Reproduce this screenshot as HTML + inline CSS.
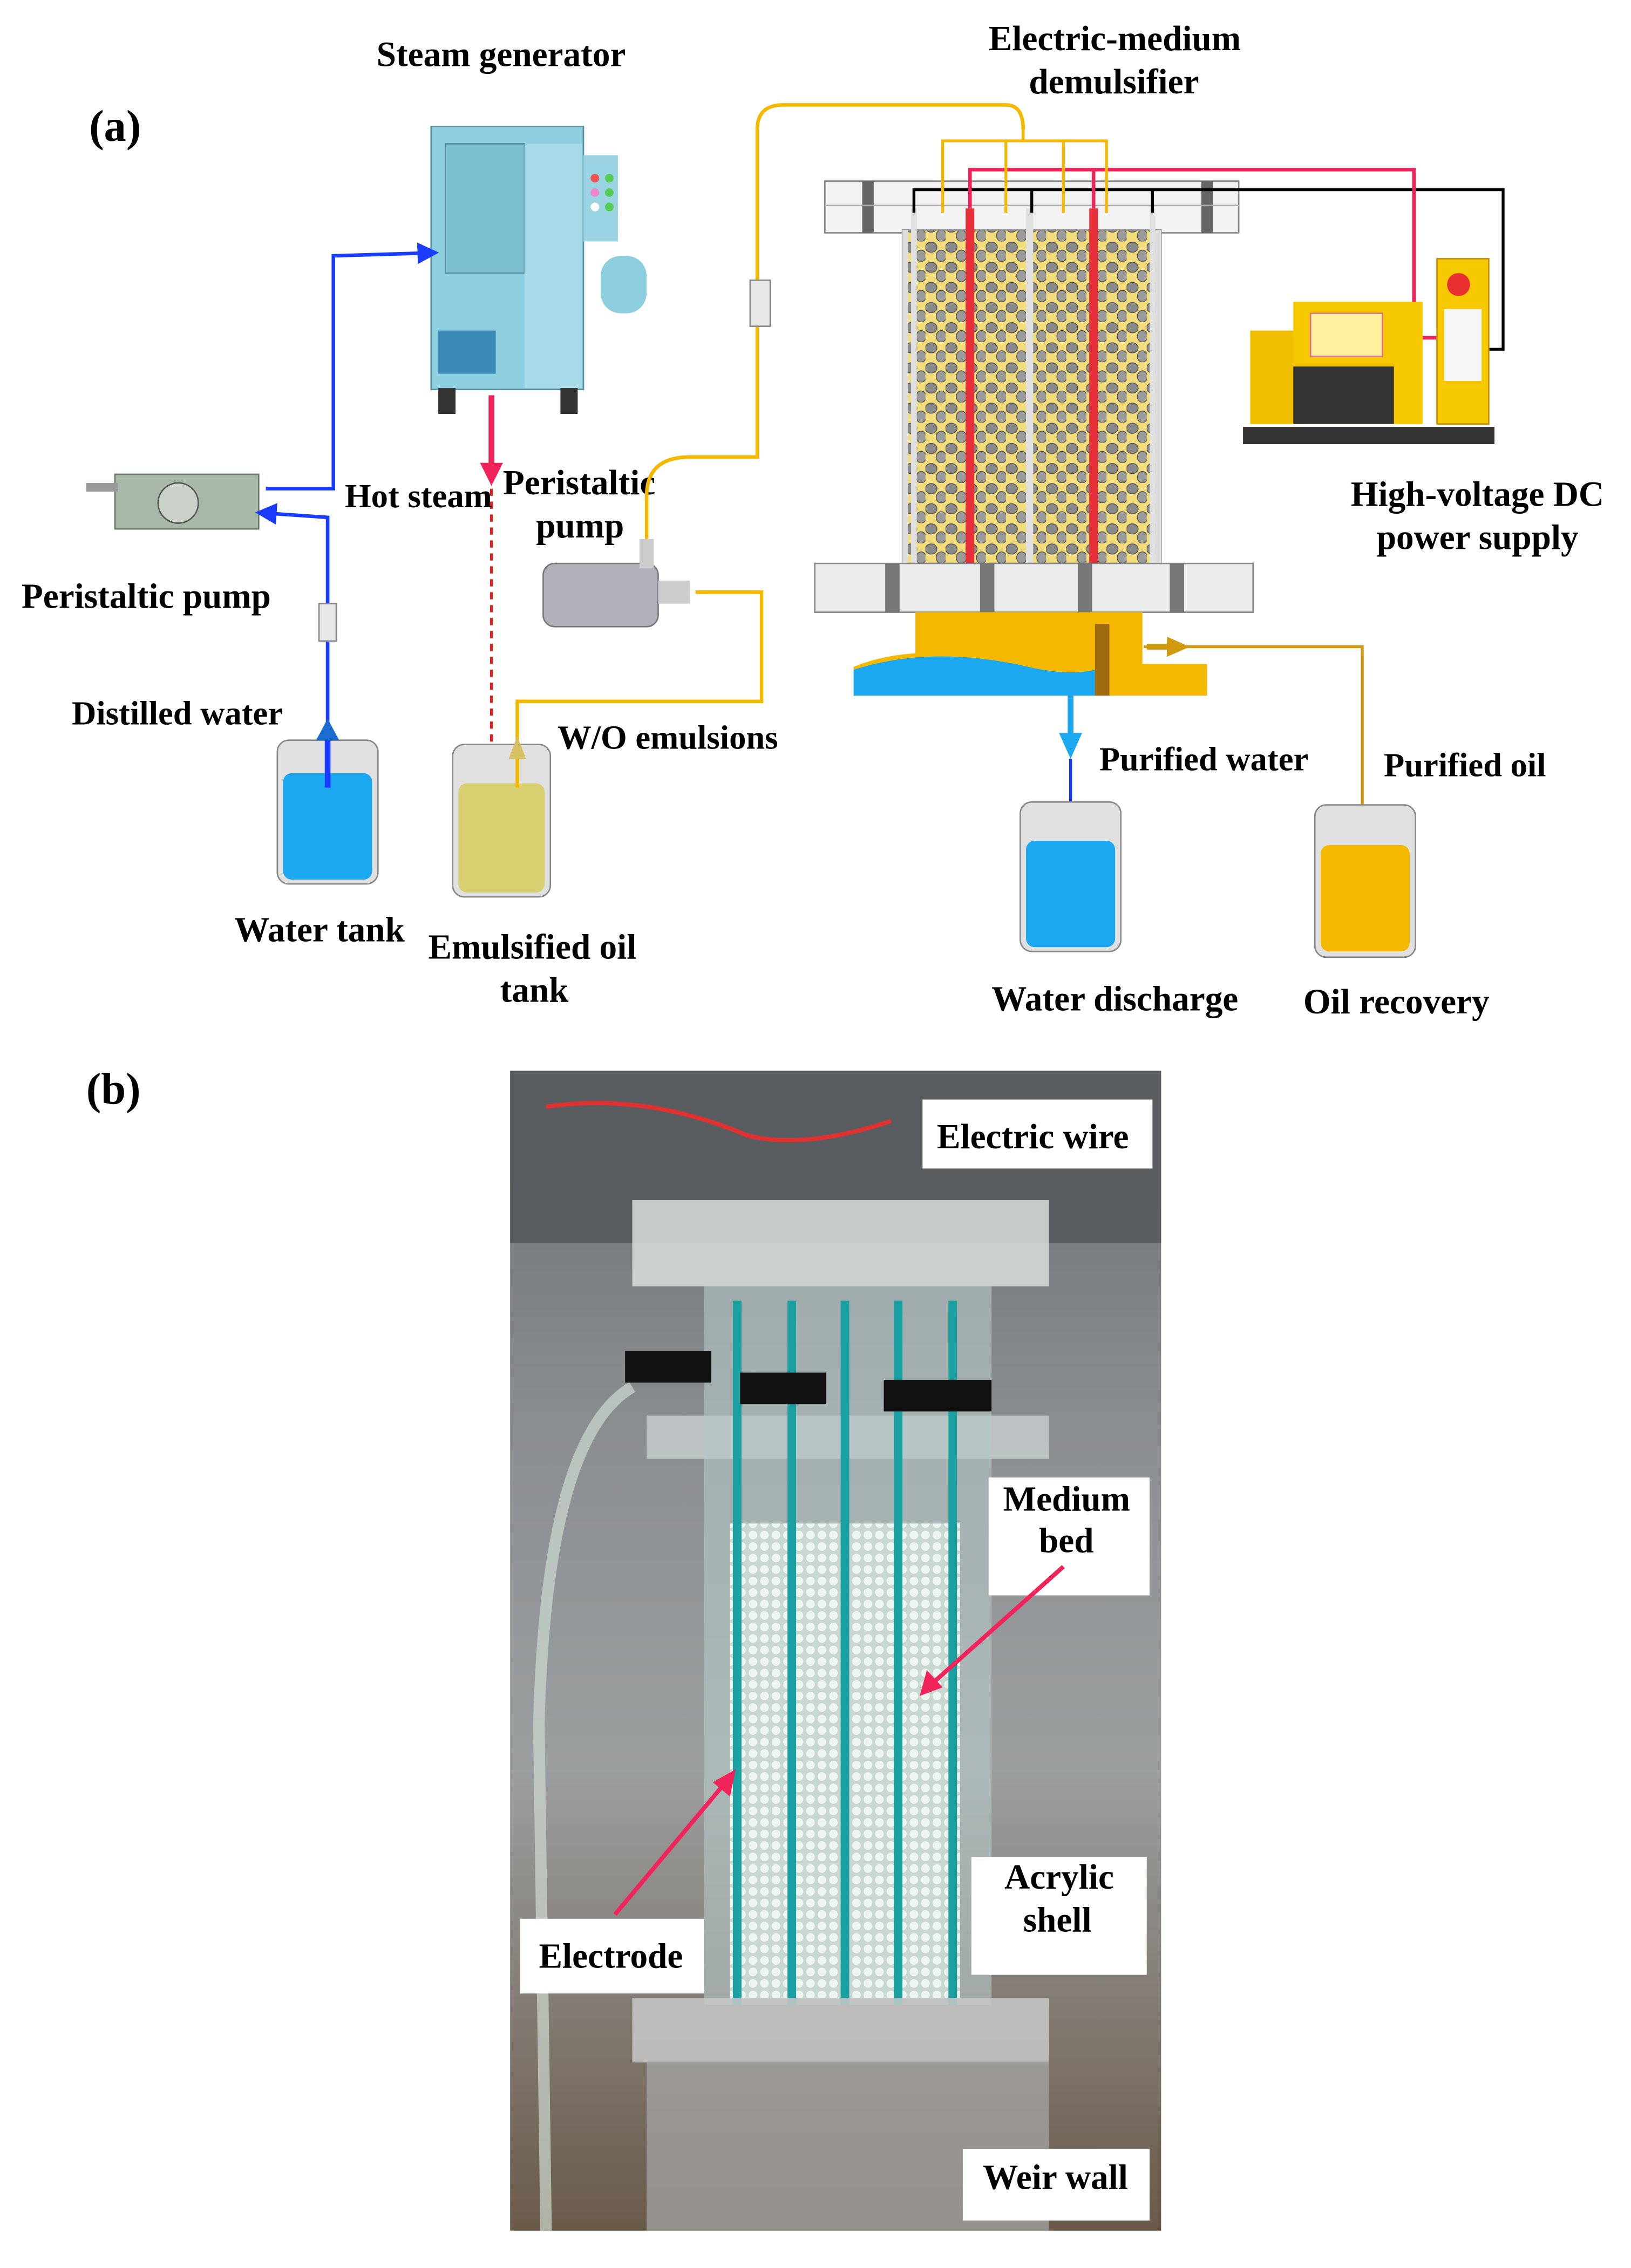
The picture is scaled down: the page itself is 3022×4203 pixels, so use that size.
<!DOCTYPE html>
<html><head><meta charset="utf-8">
<style>
html,body{margin:0;padding:0;background:#fff;}
svg{display:block;}
text{font-family:"Liberation Serif",serif;font-weight:bold;fill:#000;}
</style></head>
<body>
<svg width="3022" height="4203" viewBox="0 0 1135 1578" preserveAspectRatio="none" xmlns="http://www.w3.org/2000/svg">
<defs>
<linearGradient id="bg" x1="0" y1="0" x2="0" y2="1">
<stop offset="0" stop-color="#6b6e72"/><stop offset="0.3" stop-color="#8a8d90"/><stop offset="0.6" stop-color="#9c9fa0"/><stop offset="1" stop-color="#6a5a4a"/>
</linearGradient>
<pattern id="peb" width="14" height="14" patternUnits="userSpaceOnUse">
<rect width="14" height="14" fill="#f3dc7a"/>
<ellipse cx="4" cy="4" rx="4" ry="3.5" fill="#8a8a8a" stroke="#555" stroke-width="0.6"/>
<ellipse cx="11" cy="10" rx="3.5" ry="4" fill="#9a9a9a" stroke="#555" stroke-width="0.6"/>
</pattern>
<pattern id="beads" width="8" height="8" patternUnits="userSpaceOnUse">
<rect width="8" height="8" fill="#c8d8d0"/>
<circle cx="4" cy="4" r="3" fill="#eef5f0"/>
</pattern>
<marker id="ab" markerWidth="6" markerHeight="6" refX="3" refY="3" orient="auto"><path d="M0,0 L6,3 L0,6z" fill="#1a3cff"/></marker>
</defs>
<rect width="1135" height="1578" fill="#fff"/>

<text x="62" y="98" font-size="31">(a)</text>
<text x="262" y="46" font-size="24.5">Steam generator</text>
<text x="688" y="35" font-size="24.5">Electric-medium</text>
<text x="716" y="65" font-size="24.5">demulsifier</text>

<rect x="300" y="88" width="106" height="183" fill="#8ecfdf" stroke="#5a8fa0"/>
<rect x="310" y="100" width="55" height="90" fill="#7cc0d2" stroke="#5a8fa0"/>
<rect x="365" y="100" width="40" height="170" fill="#a5dbe8"/>
<rect x="406" y="108" width="24" height="60" fill="#9ad4e2"/>
<circle cx="414" cy="124" r="3" fill="#e55"/><circle cx="424" cy="124" r="3" fill="#5c5"/>
<circle cx="414" cy="134" r="3" fill="#e8c"/><circle cx="424" cy="134" r="3" fill="#5c5"/>
<circle cx="414" cy="144" r="3" fill="#fff"/><circle cx="424" cy="144" r="3" fill="#5c5"/>
<rect x="418" y="178" width="32" height="40" rx="14" fill="#8ecfdf"/>
<rect x="305" y="230" width="40" height="30" fill="#3a8ab5"/>
<rect x="305" y="270" width="12" height="18" fill="#333"/><rect x="390" y="270" width="12" height="18" fill="#333"/>

<rect x="80" y="330" width="100" height="38" fill="#a8b8a8" stroke="#6a7a6a"/>
<circle cx="124" cy="350" r="14" fill="#c8d0c8" stroke="#555"/>
<rect x="60" y="336" width="22" height="6" fill="#999"/>
<text x="15" y="423" font-size="24.5">Peristaltic pump</text>
<path d="M185,340 L232,340 L232,178 L298,176" fill="none" stroke="#1a3cff" stroke-width="2.5" marker-end="url(#ab)"/>
<path d="M228,510 L228,360 L185,357" fill="none" stroke="#1a3cff" stroke-width="2.5" marker-end="url(#ab)"/>
<rect x="222" y="420" width="12" height="26" fill="#e8e8e8" stroke="#888"/>
<text x="50" y="504" font-size="23.5">Distilled water</text>

<rect x="193" y="515" width="70" height="100" rx="8" fill="#e0e0e0" stroke="#888"/>
<rect x="197" y="538" width="62" height="74" rx="6" fill="#1ba8f0"/>
<path d="M228,548 L228,510" stroke="#1a3cff" stroke-width="4"/><path d="M220,515 L228,500 L236,515z" fill="#1a6cd0"/>
<text x="163" y="655" font-size="24.5">Water tank</text>

<path d="M342,275 L342,325" stroke="#f0245a" stroke-width="4"/><path d="M334,322 L342,338 L350,322z" fill="#f0245a"/>
<path d="M342,340 L342,545" stroke="#e02020" stroke-width="2" stroke-dasharray="5,4"/>
<path d="M337,540 L342,552 L347,540z" fill="#e02020"/>
<text x="240" y="353" font-size="23.5">Hot steam</text>
<text x="350" y="344" font-size="24.5">Peristaltic</text>
<text x="373" y="374" font-size="24.5">pump</text>

<rect x="315" y="518" width="68" height="106" rx="8" fill="#e0e0e0" stroke="#888"/>
<rect x="319" y="545" width="60" height="76" rx="6" fill="#d8d070"/>
<path d="M360,548 L360,488 L530,488 L530,412 L484,412" fill="none" stroke="#f5b800" stroke-width="2.5"/>
<path d="M354,528 L360,512 L366,528z" fill="#d8c060"/>
<text x="298" y="667" font-size="24.5">Emulsified oil</text>
<text x="348" y="697" font-size="24.5">tank</text>
<text x="388" y="521" font-size="23.5">W/O emulsions</text>

<rect x="378" y="392" width="80" height="44" rx="8" fill="#b0b0b8" stroke="#777"/>
<rect x="458" y="404" width="22" height="16" fill="#ccc"/>
<rect x="445" y="375" width="10" height="20" fill="#ccc"/>
<path d="M450,375 L450,345 Q450,318 480,318 L527,318 L527,90 Q527,73 545,73 L700,73 Q712,73 712,90" fill="none" stroke="#f5b800" stroke-width="2.5"/>
<rect x="522" y="195" width="14" height="32" fill="#e8e8e8" stroke="#888"/>

<rect x="574" y="126" width="288" height="36" fill="#f2f2f2" stroke="#888"/>
<rect x="600" y="126" width="8" height="36" fill="#666"/><rect x="836" y="126" width="8" height="36" fill="#666"/>
<line x1="574" y1="143" x2="862" y2="143" stroke="#aaa"/>
<rect x="628" y="160" width="180" height="232" fill="url(#peb)" stroke="#999"/>
<rect x="628" y="160" width="4" height="232" fill="#ddd"/><rect x="804" y="160" width="4" height="232" fill="#ddd"/>
<rect x="672" y="145" width="6" height="248" fill="#e8303a"/>
<rect x="758" y="145" width="6" height="248" fill="#e8303a"/>
<rect x="714" y="145" width="5" height="248" fill="#e0e0e0"/>
<rect x="634" y="145" width="4" height="248" fill="#e0e0e0"/><rect x="800" y="145" width="4" height="248" fill="#e0e0e0"/>
<path d="M636,148 L636,132 L1046,132 L1046,243 L1028,243" fill="none" stroke="#000" stroke-width="2"/>
<path d="M802,148 L802,132 M718,148 L718,132" stroke="#000" stroke-width="2"/>
<path d="M675,145 L675,118 L984,118 L984,235 L1010,235" fill="none" stroke="#f0245a" stroke-width="2.5"/>
<path d="M761,145 L761,118" stroke="#f0245a" stroke-width="2.5"/>
<path d="M656,148 L656,98 L770,98 L770,148 M700,98 L700,148 M740,98 L740,148 M712,90 L712,98" fill="none" stroke="#f5b800" stroke-width="2"/>
<rect x="567" y="392" width="305" height="34" fill="#ececec" stroke="#888"/>
<rect x="616" y="392" width="10" height="34" fill="#777"/><rect x="682" y="392" width="10" height="34" fill="#777"/>
<rect x="750" y="392" width="10" height="34" fill="#777"/><rect x="814" y="392" width="10" height="34" fill="#777"/>
<path d="M637,426 L795,426 L795,462 L840,462 L840,484 L594,484 L594,464 Q640,445 720,462 L637,456z" fill="#f5b800"/>
<path d="M594,466 Q650,448 720,465 Q745,470 762,466 L762,484 L594,484z" fill="#1ba8f0"/>
<rect x="762" y="434" width="10" height="50" fill="#a06a10"/>
<path d="M796,450 L948,450 Q948,452 948,585" fill="none" stroke="#d09a10" stroke-width="2"/>
<path d="M798,450 L812,450" stroke="#d09a10" stroke-width="4"/><path d="M812,443 L828,450 L812,457z" fill="#d09a10"/>
<path d="M745,484 L745,512" stroke="#1ba8f0" stroke-width="4"/><path d="M737,510 L745,528 L753,510z" fill="#1ba8f0"/>
<path d="M745,528 L745,590" stroke="#1a3cff" stroke-width="2"/>
<text x="765" y="536" font-size="23.5">Purified water</text>
<text x="963" y="540" font-size="23.5">Purified oil</text>

<rect x="870" y="230" width="40" height="65" fill="#f0c000"/>
<rect x="900" y="210" width="90" height="85" fill="#f5c800"/>
<rect x="912" y="218" width="50" height="30" fill="#fff0a0" stroke="#e07090"/>
<rect x="900" y="255" width="70" height="40" fill="#333"/>
<rect x="1000" y="180" width="36" height="115" fill="#f5c800" stroke="#c09000"/>
<circle cx="1015" cy="198" r="8" fill="#e83030"/>
<rect x="1005" y="215" width="26" height="50" fill="#f5f5f5"/>
<rect x="865" y="297" width="175" height="12" fill="#333"/>
<text x="940" y="352" font-size="24.5">High-voltage DC</text>
<text x="958" y="382" font-size="24.5">power supply</text>

<rect x="710" y="558" width="70" height="104" rx="8" fill="#e0e0e0" stroke="#888"/>
<rect x="714" y="585" width="62" height="74" rx="6" fill="#1ba8f0"/>
<rect x="915" y="560" width="70" height="106" rx="8" fill="#e0e0e0" stroke="#888"/>
<rect x="919" y="588" width="62" height="74" rx="6" fill="#f5b800"/>
<text x="690" y="703" font-size="24.5">Water discharge</text>
<text x="907" y="705" font-size="24.5">Oil recovery</text>

<text x="60" y="768" font-size="31">(b)</text>
<rect x="355" y="745" width="453" height="807" fill="url(#bg)"/>
<rect x="355" y="745" width="453" height="120" fill="#5a5d60"/>
<rect x="440" y="835" width="290" height="60" fill="#d8dcdc" opacity="0.85"/>
<rect x="450" y="985" width="280" height="30" fill="#c8d0d0" opacity="0.8"/>
<rect x="490" y="895" width="200" height="500" fill="#b8c8c8" opacity="0.6"/>
<rect x="508" y="1060" width="160" height="330" fill="url(#beads)"/>
<rect x="510" y="905" width="6" height="490" fill="#1aa0a0"/>
<rect x="548" y="905" width="6" height="490" fill="#1aa0a0"/>
<rect x="585" y="905" width="6" height="490" fill="#1aa0a0"/>
<rect x="622" y="905" width="6" height="490" fill="#1aa0a0"/>
<rect x="660" y="905" width="6" height="490" fill="#1aa0a0"/>
<rect x="440" y="1390" width="290" height="45" fill="#c8c8c8" opacity="0.85"/>
<rect x="450" y="1435" width="280" height="117" fill="#a8a8a8" opacity="0.7"/>
<path d="M440,965 Q380,1000 375,1200 L380,1552" fill="none" stroke="#cfd8d0" stroke-width="8" opacity="0.7"/>
<rect x="435" y="940" width="60" height="22" fill="#111"/><rect x="515" y="955" width="60" height="22" fill="#111"/><rect x="615" y="960" width="75" height="22" fill="#111"/>
<path d="M380,770 Q450,760 520,790 Q560,800 620,780" fill="none" stroke="#e03030" stroke-width="3"/>
<rect x="642" y="765" width="160" height="48" fill="#fff"/><text x="652" y="799" font-size="24.5">Electric wire</text>
<rect x="688" y="1028" width="112" height="82" fill="#fff"/><text x="698" y="1051" font-size="24.5">Medium</text><text x="723" y="1080" font-size="24.5">bed</text>
<rect x="676" y="1292" width="122" height="82" fill="#fff"/><text x="699" y="1314" font-size="24.5">Acrylic</text><text x="712" y="1344" font-size="24.5">shell</text>
<rect x="362" y="1335" width="128" height="52" fill="#fff"/><text x="375" y="1369" font-size="24.5">Electrode</text>
<rect x="670" y="1495" width="130" height="50" fill="#fff"/><text x="684" y="1523" font-size="24.5">Weir wall</text>
<path d="M740,1090 L648,1172" stroke="#f0245a" stroke-width="3"/><path d="M640,1180 L645,1162 L656,1174z" fill="#f0245a"/>
<path d="M428,1332 L505,1240" stroke="#f0245a" stroke-width="3"/><path d="M512,1231 L508,1250 L496,1240z" fill="#f0245a"/>
</svg>
</body></html>
